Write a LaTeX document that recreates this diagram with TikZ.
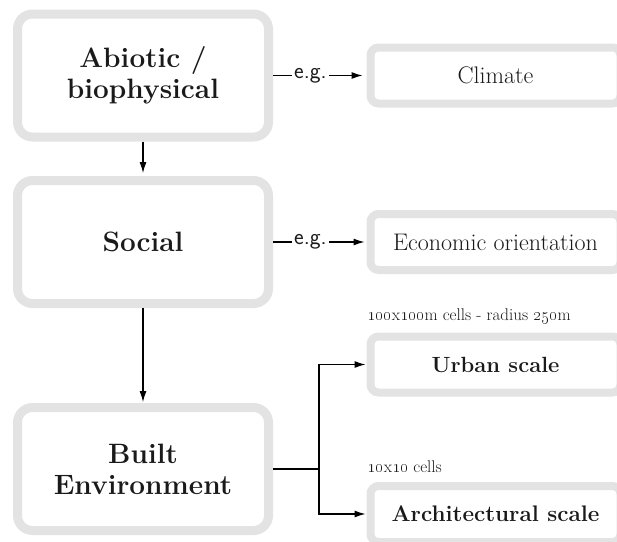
\documentclass[tikz,border=0pt]{standalone}
\usetikzlibrary{arrows.meta}

\definecolor{boxgray}{HTML}{E3E3E3}
\definecolor{inkgray}{HTML}{1A1A1A}

\tikzset{
  bigbox/.style={draw=boxgray, line width=9pt, rounded corners=15pt,
    minimum width=251pt, minimum height=123pt, align=center,
    text=inkgray, font=\fontsize{28}{31}\selectfont\bfseries},
  smallbox/.style={draw=boxgray, line width=8pt, rounded corners=8pt,
    minimum width=250pt, minimum height=56pt, text=inkgray},
  note/.style={anchor=base west, inner sep=0pt, text=inkgray,
    font=\fontsize{17}{20}\selectfont},
  eg/.style={pos=0.4, fill=white, inner xsep=2pt, text=inkgray,
    font=\sffamily\fontsize{23}{26}\selectfont}
}

\begin{document}
\begin{tikzpicture}[x=1pt, y=-1pt, >={Latex[length=11pt,width=7pt]}, line width=1.1pt]
 \clip (0,0) rectangle (617,541);

 % left column
 \node[bigbox] (abiotic) at (143, 75.5) {Abiotic /\\biophysical};
 \node[bigbox] (social)  at (143, 242)  {Social};
 \node[bigbox] (built)   at (143, 469)  {Built\\Environment};

 % right column
 \node[smallbox, font=\fontsize{24}{28}\selectfont] (climate) at (495.5, 75.5) {Climate};
 \node[smallbox, font=\fontsize{24}{28}\selectfont] (economic) at (495.5, 242) {Economic orientation};
 \node[smallbox, font=\fontsize{22}{26}\selectfont\bfseries] (urban) at (495.5, 364.5) {Urban scale};
 \node[smallbox, font=\fontsize{22.5}{26}\selectfont\bfseries] (arch) at (495.5, 514) {Architectural scale};

 \node[note] (urbannote) at (367, 320) {\oldstylenums{100}x\oldstylenums{100}m cells - radius \oldstylenums{250}m};
 \node[note] (archnote) at (367, 472) {\oldstylenums{10}x\oldstylenums{10} cells};

 \draw[->, shorten >=3pt] (abiotic.south) -- (social.north) ;
 \draw[->, shorten >=1pt] (social.south) -- (built.north) ;

 \draw[->, shorten >=4pt] (abiotic.east) -- node[eg] {e.g.} (climate.west) ;
 \draw[->, shorten >=2pt] (social.east) -- node[eg] {e.g.} (economic.west) ;

 \path (built.east) ++(46, 0) coordinate (fork) ;
 \draw (built.east) -- (fork) ;
 \draw[->, shorten >=1pt] (fork) |- (urban.west) ;
 \draw[->, shorten >=1pt] (fork) |- (arch.west) ;

\end{tikzpicture}
\end{document}
